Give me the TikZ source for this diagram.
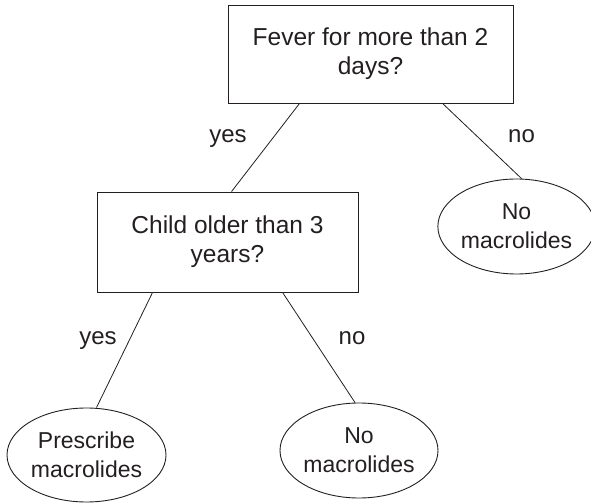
\documentclass[tikz,border=0pt]{standalone}
\usepackage{fontspec}
\setmainfont{Liberation Sans}
\usetikzlibrary{shapes.geometric}
\definecolor{ink}{HTML}{231F20}
\begin{document}
\begin{tikzpicture}[x=1pt,y=1pt,
  qbox/.style={draw=ink, line width=0.9pt, rectangle, inner sep=0pt, align=center, text=ink, font=\fontsize{24.5}{29}\selectfont},
  leaf/.style={draw=ink, line width=0.9pt, ellipse, inner sep=0pt, align=center, text=ink, font=\fontsize{23}{29}\selectfont},
  lbl/.style={text=ink, font=\fontsize{24}{29}\selectfont, inner sep=0pt, anchor=base},
  conn/.style={draw=ink, line width=0.8pt}]
\useasboundingbox (0,0) rectangle (591,503);
\node[qbox, minimum width=285pt, minimum height=98pt] (top) at (370.5,449) {Fever for more than 2\\days?};
\node[qbox, minimum width=261pt, minimum height=100pt] (child) at (227.5,261) {Child older than 3\\years?};
\node[leaf, minimum width=146pt, minimum height=95pt] (rno) at (516.5,276.5) {No\\macrolides};
\node[leaf, minimum width=159pt, minimum height=94pt] (lyes) at (86.5,48) {Prescribe\\macrolides};
\node[leaf, minimum width=158pt, minimum height=95pt] (mno) at (359,52.5) {No\\macrolides};
\draw[conn] ([xshift=72pt]top.south west) -- ([xshift=135pt]child.north west);
\draw[conn] ([xshift=215pt]top.south west) -- ([xshift=5pt]rno.north);
\draw[conn] ([xshift=56pt]child.south west) -- ([xshift=10pt]lyes.north);
\draw[conn] ([xshift=186pt]child.south west) -- ([xshift=-4pt]mno.north);
\node[lbl] (lyes1) at (228,360) {yes};
\node[lbl] (lno1) at (521.5,360) {no};
\node[lbl] (lyes2) at (98,158) {yes};
\node[lbl] (lno2) at (352,158) {no};
\end{tikzpicture}
\end{document}
